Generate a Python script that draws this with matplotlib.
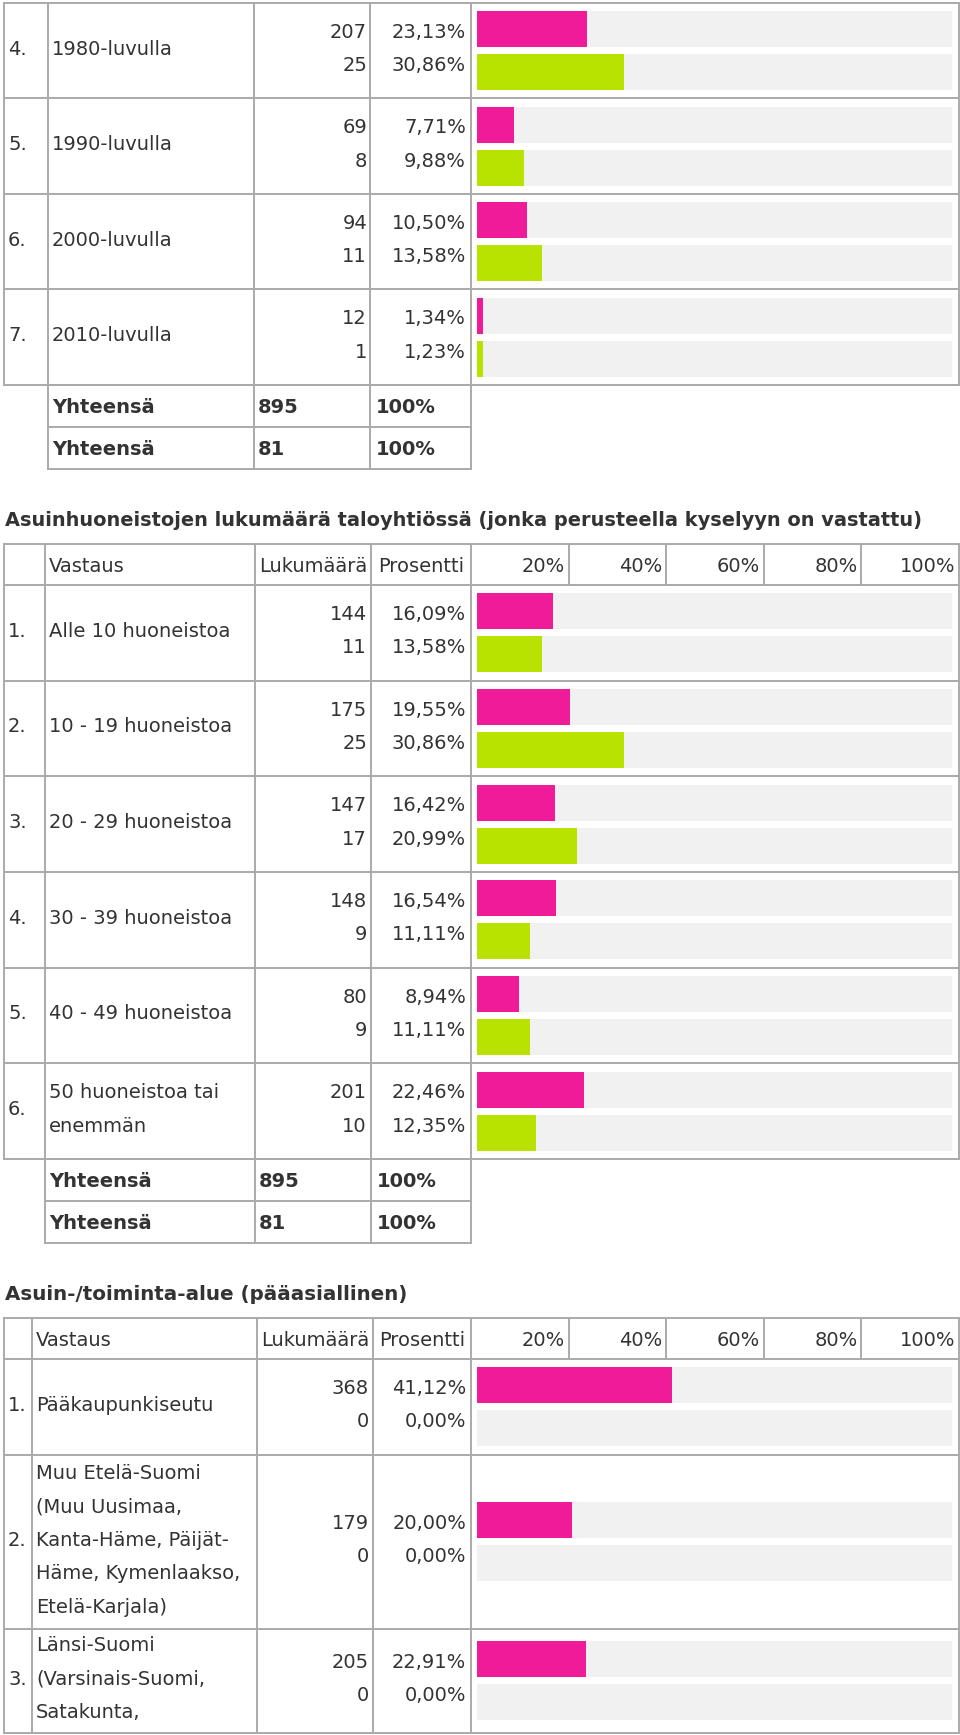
import matplotlib.pyplot as plt

t1_nums = ["4.", "5.", "6.", "7."]
t1_labels = ["1980-luvulla", "1990-luvulla", "2000-luvulla", "2010-luvulla"]
t1_count_a = [207, 69, 94, 12]
t1_pct_a = [23.13, 7.71, 10.50, 1.34]
t1_count_b = [25, 8, 11, 1]
t1_pct_b = [30.86, 9.88, 13.58, 1.23]

t2_title = "Asuinhuoneistojen lukumäärä taloyhtiössä (jonka perusteella kyselyyn on vastattu)"
t2_nums = ["1.", "2.", "3.", "4.", "5.", "6."]
t2_labels = ["Alle 10 huoneistoa", "10 - 19 huoneistoa", "20 - 29 huoneistoa",
             "30 - 39 huoneistoa", "40 - 49 huoneistoa", "50 huoneistoa tai\nenemmän"]
t2_count_a = [144, 175, 147, 148, 80, 201]
t2_pct_a = [16.09, 19.55, 16.42, 16.54, 8.94, 22.46]
t2_count_b = [11, 25, 17, 9, 9, 10]
t2_pct_b = [13.58, 30.86, 20.99, 11.11, 11.11, 12.35]

t3_title = "Asuin-/toiminta-alue (pääasiallinen)"
t3_nums = ["1.", "2.", "3."]
t3_labels = ["Pääkaupunkiseutu",
             "Muu Etelä-Suomi\n(Muu Uusimaa,\nKanta-Häme, Päijät-\nHäme, Kymenlaakso,\nEtelä-Karjala)",
             "Länsi-Suomi\n(Varsinais-Suomi,\nSatakunta,"]
t3_count_a = [368, 179, 205]
t3_pct_a = [41.12, 20.00, 22.91]
t3_count_b = [0, 0, 0]
t3_pct_b = [0.00, 0.00, 0.00]

totals = [895, 81]
total_label = "Yhteensä"
headers = ["Vastaus", "Lukumäärä", "Prosentti"]
scale_labels = ["20%", "40%", "60%", "80%", "100%"]

# ---- styling ----
W, H = 960, 1735
PINK = "#f01b98"
GREEN = "#b8e200"
TRACK = "#f1f1f1"
GRID = "#aaaaaa"
TXT = "#333333"
FS = 14.0
LW = 1.4
LINE = 33.4

fig = plt.figure(figsize=(W / 100, H / 100), dpi=100)
ax = fig.add_axes([0, 0, 1, 1])
ax.set_xlim(0, W)
ax.set_ylim(H, 0)
ax.axis("off")
renderer = fig.canvas.get_renderer()


def pct_text(v):
    return f"{v:.2f}".replace(".", ",") + "%"


def put(x, yc, s, ha="left", bold=False, size=FS):
    # yc is the visual centre of capitals / digits
    return ax.text(x, yc + 0.365 * size / 0.72, s, ha=ha, va="baseline", color=TXT,
                   fontsize=size, fontweight="bold" if bold else "normal")


def title(x, yc, s, width):
    # bold heading scaled so that it spans the same width as in the original page
    t = put(x, yc, s, bold=True, size=15)
    w = t.get_window_extent(renderer).width
    t.remove()
    put(x, yc, s, bold=True, size=15 * width / w)


def hline(y, x0, x1):
    ax.plot([x0, x1], [y, y], color=GRID, lw=LW, solid_capstyle="projecting")


def vline(x, y0, y1):
    ax.plot([x, x], [y0, y1], color=GRID, lw=LW, solid_capstyle="projecting")


def header(top, bottom, cols):
    yc = (top + bottom) / 2
    put(cols[1] + 4, yc, headers[0])
    put((cols[2] + cols[3]) / 2, yc, headers[1], ha="center")
    put((cols[3] + cols[4]) / 2, yc, headers[2], ha="center")
    step = (cols[5] - cols[4]) / 5
    for k, s in enumerate(scale_labels):
        xr = cols[4] + step * (k + 1)
        put(xr - 4, yc, s, ha="right")
        if k < 4:
            vline(xr, top, bottom)
    hline(top, cols[0], cols[5])
    for x in cols:
        vline(x, top, bottom)


def body(top, heights, cols, nums, labels, ca, pa, cb, pb, label_x, count_x):
    edges = [top]
    for h in heights:
        edges.append(edges[-1] + h)
    bottom = edges[-1]
    for e in edges:
        hline(e, cols[0], cols[5])
    for x in cols:
        vline(x, top, bottom)
    centers = [(edges[i] + edges[i + 1]) / 2 for i in range(len(heights))]

    bax = fig.add_axes([477 / W, 1 - bottom / H, (952 - 477) / W, (bottom - top) / H])
    bax.set_xlim(0, 100)
    bax.set_ylim(bottom, top)
    bax.axis("off")
    ya = [c - 21.5 for c in centers]
    yb = [c + 21.5 for c in centers]
    bax.barh(ya + yb, [100] * (2 * len(centers)), height=36, color=TRACK)
    bax.barh(ya, pa, height=36, color=PINK)
    bax.barh(yb, pb, height=36, color=GREEN)

    for i, c in enumerate(centers):
        tc = c - 3.3
        put(8, tc, nums[i])
        lines = labels[i].split("\n")
        n = len(lines)
        for j, s in enumerate(lines):
            put(label_x, tc + (j - (n - 1) / 2) * LINE, s)
        put(count_x, tc - LINE / 2, str(ca[i]), ha="right")
        put(count_x, tc + LINE / 2, str(cb[i]), ha="right")
        put(466, tc - LINE / 2, pct_text(pa[i]), ha="right")
        put(466, tc + LINE / 2, pct_text(pb[i]), ha="right")
    return bottom


def total_rows(top, cols):
    rows = [top, top + 42, top + 84]
    for y in rows:
        hline(y, cols[0], cols[3])
    for x in cols:
        vline(x, top, rows[-1])
    for k, v in enumerate(totals):
        yc = rows[k] + 21
        put(cols[0] + 4, yc, total_label, bold=True)
        put(cols[1] + 4, yc, str(v), bold=True)
        put(cols[2] + 6, yc, "100%", bold=True)


# ---- table 1 (continuation, no header) ----
c1 = [4, 48, 254, 370, 471, 959]
b1 = body(3, [95.5] * 4, c1, t1_nums, t1_labels, t1_count_a, t1_pct_a,
          t1_count_b, t1_pct_b, 52, 367)
total_rows(b1, c1[1:5])

# ---- table 2 ----
title(5, 519, t2_title, 918)
c2 = [4, 45, 255, 371, 471, 959]
header(544, 585, c2)
b2 = body(585, [95.67] * 6, c2, t2_nums, t2_labels, t2_count_a, t2_pct_a,
          t2_count_b, t2_pct_b, 49, 367)
total_rows(b2, c2[1:5])

# ---- table 3 ----
title(5, 1293, t3_title, 402)
c3 = [4, 32, 257, 373, 471, 959]
header(1318, 1359, c3)
body(1359, [96, 174, 104], c3, t3_nums, t3_labels, t3_count_a, t3_pct_a,
     t3_count_b, t3_pct_b, 36, 369)

fig.savefig("out.png", dpi=100)
